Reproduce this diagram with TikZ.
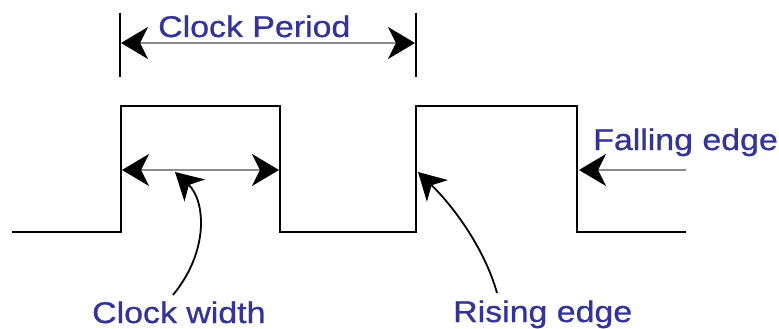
\documentclass[tikz,border=0pt]{standalone}
\usepackage{fontspec}
\setmainfont[FakeBold=0.8]{Liberation Sans}
\usetikzlibrary{arrows.meta}
\definecolor{lblue}{RGB}{52,52,152}
\begin{document}
\begin{tikzpicture}[x=1pt,y=-1pt,
  wave/.style={line width=2.2pt,line join=miter},
  tick/.style={line width=1.8pt},
  shaft/.style={line width=2.2pt,draw=black!45,
     arrows={-Stealth[length=27pt,width=32pt,inset=8pt,black]}},
  dimshaft/.style={line width=2.2pt,draw=black!45,
     arrows={Stealth[length=27pt,width=32pt,inset=8pt,black]-Stealth[length=27pt,width=32pt,inset=8pt,black]}},
  pointer/.style={line width=1.8pt,
     arrows={-Stealth[length=27pt,width=30pt,inset=8pt]}},
  lbl/.style={inner sep=0pt,anchor=base west,text=lblue,font=\fontsize{30}{30}\selectfont}]
\useasboundingbox (0,0) rectangle (779,329);
% waveform
\coordinate (w0) at (12,232);
\coordinate (r1) at (121,232);
\coordinate (h1) at (121,106);
\coordinate (h2) at (280,106);
\coordinate (f1) at (280,232);
\coordinate (r2) at (416,232);
\coordinate (h3) at (416,106);
\coordinate (h4) at (577,106);
\coordinate (f2) at (577,232);
\coordinate (w1) at (686,232);
\draw[wave] (w0) -- (r1) -- (h1) -- (h2) -- (f1) -- (r2) -- (h3) -- (h4) -- (f2) -- (w1);
% clock period
\coordinate (t1a) at (120,13);
\coordinate (t1b) at (120,77);
\coordinate (t2a) at (416,13);
\coordinate (t2b) at (416,77);
\draw[tick] (t1a) -- (t1b);
\draw[tick] (t2a) -- (t2b);
\coordinate (pa) at (121,43);
\coordinate (pb) at (415,43);
\draw[dimshaft] (pa) -- (pb);
\node[lbl] (period) at (158,37) {\scalebox{1.13}[1]{Clock Period}};
% clock width
\coordinate (ca) at (122,170);
\coordinate (cb) at (279,170);
\draw[dimshaft] (ca) -- (cb);
\node[lbl] (width) at (92,323) {\scalebox{1.13}[1]{Clock width}};
\coordinate (cwtip) at (175,172);
\coordinate (cwfoot) at (173,295);
\draw[pointer] (cwfoot) .. controls (210,250) and (205,200) .. (cwtip);
% rising edge
\node[lbl] (rising) at (453,322) {\scalebox{1.13}[1]{Rising edge}};
\coordinate (retip) at (418,172);
\coordinate (refoot) at (497,293);
\draw[pointer] (refoot) .. controls (485,250) and (455,208) .. (retip);
% falling edge
\node[lbl] (falling) at (593,150) {\scalebox{1.13}[1]{Falling edge}};
\coordinate (fetail) at (686,170);
\coordinate (fetip) at (579,170);
\draw[shaft] (fetail) -- (fetip);
\end{tikzpicture}
\end{document}
